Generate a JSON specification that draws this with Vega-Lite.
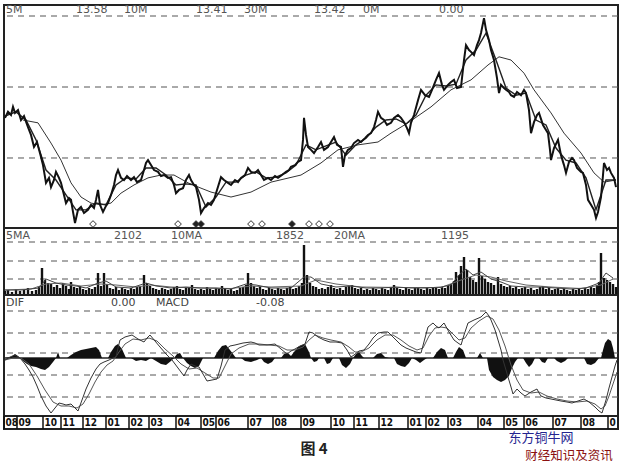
{
"$schema": "https://vega.github.io/schema/vega-lite/v6.json",
"padding": {"left": 0, "top": 2, "right": 0, "bottom": 38},
"background": "white",
"spacing": 0,
"bounds": "flush",
"config": {"view": {"stroke": "#222", "strokeWidth": 2}, "text": {"font": "DejaVu Sans"}},
"datasets": {
"price": [{"t":4,"p":13.13},{"t":7,"p":13.30},{"t":10,"p":13.21},{"t":12,"p":13.44},{"t":14,"p":13.27},{"t":17,"p":13.35},{"t":20,"p":13.07},{"t":23,"p":13.18},{"t":27,"p":12.87},{"t":30,"p":12.65},{"t":33,"p":12.31},{"t":36,"p":12.45},{"t":40,"p":12.03},{"t":42,"p":11.80},{"t":45,"p":11.30},{"t":48,"p":11.44},{"t":50,"p":11.18},{"t":53,"p":11.38},{"t":55,"p":11.61},{"t":58,"p":11.44},{"t":60,"p":11.30},{"t":63,"p":10.96},{"t":65,"p":10.73},{"t":68,"p":10.87},{"t":70,"p":10.82},{"t":72,"p":10.48},{"t":74,"p":10.17},{"t":77,"p":10.54},{"t":80,"p":10.62},{"t":83,"p":10.45},{"t":87,"p":10.54},{"t":90,"p":10.68},{"t":93,"p":10.59},{"t":95,"p":10.82},{"t":97,"p":11.10},{"t":99,"p":10.68},{"t":102,"p":10.48},{"t":105,"p":10.65},{"t":107,"p":10.73},{"t":110,"p":10.96},{"t":113,"p":11.24},{"t":115,"p":11.52},{"t":117,"p":11.66},{"t":120,"p":11.44},{"t":123,"p":11.38},{"t":126,"p":11.49},{"t":130,"p":11.38},{"t":133,"p":11.46},{"t":136,"p":11.32},{"t":140,"p":11.38},{"t":143,"p":11.66},{"t":145,"p":11.86},{"t":147,"p":11.94},{"t":150,"p":11.80},{"t":153,"p":11.66},{"t":157,"p":11.61},{"t":160,"p":11.49},{"t":163,"p":11.52},{"t":167,"p":11.44},{"t":170,"p":11.46},{"t":173,"p":11.24},{"t":175,"p":11.01},{"t":178,"p":11.10},{"t":182,"p":11.15},{"t":185,"p":11.38},{"t":188,"p":11.52},{"t":190,"p":11.38},{"t":193,"p":11.24},{"t":195,"p":11.18},{"t":198,"p":10.82},{"t":200,"p":10.45},{"t":203,"p":10.59},{"t":207,"p":10.73},{"t":210,"p":10.68},{"t":213,"p":10.82},{"t":216,"p":11.10},{"t":220,"p":11.46},{"t":223,"p":11.38},{"t":227,"p":11.30},{"t":230,"p":11.24},{"t":234,"p":11.38},{"t":237,"p":11.32},{"t":240,"p":11.44},{"t":244,"p":11.52},{"t":247,"p":11.72},{"t":250,"p":11.61},{"t":254,"p":11.58},{"t":257,"p":11.66},{"t":260,"p":11.52},{"t":263,"p":11.38},{"t":267,"p":11.44},{"t":270,"p":11.38},{"t":274,"p":11.49},{"t":277,"p":11.44},{"t":281,"p":11.52},{"t":285,"p":11.61},{"t":288,"p":11.66},{"t":290,"p":11.75},{"t":294,"p":11.80},{"t":297,"p":11.89},{"t":300,"p":11.94},{"t":302,"p":12.51},{"t":303,"p":13.13},{"t":305,"p":12.65},{"t":307,"p":12.31},{"t":310,"p":12.23},{"t":313,"p":12.14},{"t":317,"p":12.31},{"t":320,"p":12.45},{"t":323,"p":12.23},{"t":327,"p":12.31},{"t":330,"p":12.45},{"t":333,"p":12.59},{"t":336,"p":12.37},{"t":340,"p":12.31},{"t":342,"p":11.75},{"t":344,"p":12.08},{"t":347,"p":12.23},{"t":350,"p":12.28},{"t":353,"p":12.42},{"t":357,"p":12.51},{"t":360,"p":12.45},{"t":364,"p":12.56},{"t":367,"p":12.65},{"t":370,"p":12.70},{"t":373,"p":12.87},{"t":375,"p":13.07},{"t":377,"p":13.30},{"t":380,"p":13.13},{"t":383,"p":13.07},{"t":386,"p":12.93},{"t":390,"p":12.99},{"t":393,"p":13.13},{"t":397,"p":13.21},{"t":400,"p":13.13},{"t":403,"p":13.01},{"t":406,"p":12.84},{"t":408,"p":12.70},{"t":410,"p":12.99},{"t":413,"p":13.21},{"t":417,"p":13.63},{"t":420,"p":13.92},{"t":424,"p":13.77},{"t":428,"p":13.72},{"t":431,"p":13.92},{"t":435,"p":14.20},{"t":438,"p":14.39},{"t":441,"p":14.06},{"t":443,"p":13.92},{"t":447,"p":14.06},{"t":450,"p":14.14},{"t":453,"p":14.20},{"t":456,"p":13.97},{"t":460,"p":14.00},{"t":463,"p":14.76},{"t":465,"p":15.18},{"t":468,"p":15.04},{"t":470,"p":14.99},{"t":473,"p":14.90},{"t":476,"p":15.18},{"t":478,"p":15.32},{"t":480,"p":15.52},{"t":483,"p":15.94},{"t":485,"p":15.61},{"t":488,"p":15.32},{"t":490,"p":15.04},{"t":493,"p":14.76},{"t":496,"p":14.25},{"t":498,"p":13.83},{"t":500,"p":14.06},{"t":503,"p":13.97},{"t":505,"p":13.92},{"t":508,"p":13.86},{"t":510,"p":13.77},{"t":513,"p":13.72},{"t":516,"p":13.86},{"t":520,"p":13.77},{"t":523,"p":13.92},{"t":525,"p":13.83},{"t":528,"p":13.35},{"t":530,"p":12.70},{"t":533,"p":13.01},{"t":536,"p":13.21},{"t":538,"p":13.27},{"t":542,"p":12.93},{"t":545,"p":12.79},{"t":547,"p":12.70},{"t":549,"p":12.23},{"t":550,"p":11.94},{"t":553,"p":12.28},{"t":557,"p":12.51},{"t":560,"p":12.08},{"t":563,"p":11.80},{"t":565,"p":11.58},{"t":568,"p":11.89},{"t":571,"p":12.00},{"t":573,"p":11.94},{"t":576,"p":11.72},{"t":580,"p":11.61},{"t":582,"p":11.58},{"t":585,"p":11.24},{"t":587,"p":10.82},{"t":590,"p":10.68},{"t":593,"p":10.54},{"t":595,"p":10.31},{"t":597,"p":10.48},{"t":600,"p":10.90},{"t":602,"p":11.52},{"t":603,"p":11.86},{"t":606,"p":11.66},{"t":608,"p":11.72},{"t":610,"p":11.58},{"t":613,"p":11.44},{"t":615,"p":11.18}],
"ma5": [{"t":4,"p":13.18},{"t":15,"p":13.30},{"t":25,"p":13.07},{"t":35,"p":12.51},{"t":45,"p":11.66},{"t":55,"p":11.38},{"t":65,"p":10.96},{"t":75,"p":10.54},{"t":85,"p":10.54},{"t":95,"p":10.73},{"t":105,"p":10.68},{"t":115,"p":11.24},{"t":125,"p":11.44},{"t":135,"p":11.41},{"t":145,"p":11.72},{"t":155,"p":11.72},{"t":165,"p":11.52},{"t":175,"p":11.24},{"t":185,"p":11.27},{"t":195,"p":11.24},{"t":205,"p":10.62},{"t":215,"p":10.90},{"t":225,"p":11.32},{"t":235,"p":11.32},{"t":245,"p":11.52},{"t":255,"p":11.61},{"t":265,"p":11.44},{"t":275,"p":11.46},{"t":285,"p":11.58},{"t":295,"p":11.80},{"t":305,"p":12.37},{"t":315,"p":12.23},{"t":325,"p":12.34},{"t":335,"p":12.45},{"t":345,"p":12.08},{"t":355,"p":12.37},{"t":365,"p":12.56},{"t":375,"p":12.87},{"t":385,"p":13.07},{"t":395,"p":13.10},{"t":405,"p":12.96},{"t":415,"p":13.21},{"t":425,"p":13.77},{"t":435,"p":14.06},{"t":445,"p":14.03},{"t":455,"p":14.08},{"t":465,"p":14.76},{"t":475,"p":15.04},{"t":485,"p":15.52},{"t":495,"p":14.76},{"t":505,"p":13.97},{"t":515,"p":13.77},{"t":525,"p":13.83},{"t":535,"p":13.07},{"t":545,"p":12.93},{"t":555,"p":12.28},{"t":565,"p":11.94},{"t":575,"p":11.86},{"t":585,"p":11.44},{"t":595,"p":10.54},{"t":605,"p":11.38},{"t":615,"p":11.38}],
"ma30": [{"t":22,"p":13.07},{"t":37,"p":12.99},{"t":50,"p":12.42},{"t":60,"p":11.94},{"t":70,"p":11.30},{"t":80,"p":10.90},{"t":90,"p":10.73},{"t":100,"p":10.68},{"t":110,"p":10.73},{"t":120,"p":11.01},{"t":133,"p":11.24},{"t":147,"p":11.44},{"t":160,"p":11.52},{"t":173,"p":11.52},{"t":187,"p":11.30},{"t":200,"p":11.15},{"t":210,"p":11.04},{"t":230,"p":10.90},{"t":250,"p":11.04},{"t":270,"p":11.32},{"t":300,"p":11.52},{"t":320,"p":11.86},{"t":337,"p":12.23},{"t":357,"p":12.37},{"t":377,"p":12.45},{"t":390,"p":12.70},{"t":407,"p":12.99},{"t":430,"p":13.44},{"t":450,"p":13.92},{"t":470,"p":14.20},{"t":487,"p":14.62},{"t":498,"p":14.85},{"t":510,"p":14.76},{"t":523,"p":14.39},{"t":533,"p":13.92},{"t":550,"p":13.27},{"t":563,"p":12.70},{"t":580,"p":12.14},{"t":593,"p":11.58},{"t":603,"p":11.32},{"t":615,"p":11.38}],
"sig": [{"t":92,"k":"o"},{"t":177,"k":"o"},{"t":195,"k":"f"},{"t":200,"k":"f"},{"t":250,"k":"o"},{"t":261,"k":"o"},{"t":291,"k":"f"},{"t":308,"k":"o"},{"t":318,"k":"o"},{"t":329,"k":"o"}],
"vol": [{"t":4,"v":400},{"t":7,"v":500},{"t":11,"v":300},{"t":15,"v":600},{"t":19,"v":400},{"t":23,"v":500},{"t":27,"v":700},{"t":31,"v":400},{"t":35,"v":500},{"t":38,"v":900},{"t":41,"v":2700},{"t":44,"v":1500},{"t":47,"v":1200},{"t":50,"v":1100},{"t":53,"v":800},{"t":56,"v":1000},{"t":59,"v":700},{"t":62,"v":1200},{"t":65,"v":900},{"t":68,"v":600},{"t":70,"v":1300},{"t":73,"v":800},{"t":76,"v":700},{"t":79,"v":900},{"t":82,"v":600},{"t":85,"v":500},{"t":88,"v":700},{"t":91,"v":600},{"t":94,"v":800},{"t":97,"v":2200},{"t":100,"v":900},{"t":103,"v":2200},{"t":106,"v":1100},{"t":109,"v":700},{"t":112,"v":600},{"t":115,"v":800},{"t":118,"v":500},{"t":121,"v":700},{"t":124,"v":600},{"t":127,"v":500},{"t":130,"v":700},{"t":133,"v":600},{"t":136,"v":800},{"t":139,"v":900},{"t":143,"v":2000},{"t":146,"v":1200},{"t":149,"v":900},{"t":152,"v":700},{"t":155,"v":600},{"t":158,"v":500},{"t":161,"v":700},{"t":164,"v":600},{"t":167,"v":500},{"t":170,"v":600},{"t":173,"v":800},{"t":176,"v":900},{"t":179,"v":600},{"t":182,"v":500},{"t":185,"v":700},{"t":188,"v":800},{"t":191,"v":1000},{"t":194,"v":600},{"t":197,"v":500},{"t":200,"v":600},{"t":203,"v":500},{"t":206,"v":800},{"t":209,"v":600},{"t":212,"v":500},{"t":215,"v":700},{"t":218,"v":600},{"t":221,"v":900},{"t":224,"v":700},{"t":227,"v":500},{"t":230,"v":600},{"t":233,"v":400},{"t":236,"v":500},{"t":239,"v":700},{"t":242,"v":800},{"t":245,"v":1000},{"t":247,"v":2200},{"t":250,"v":1200},{"t":253,"v":900},{"t":256,"v":700},{"t":259,"v":900},{"t":262,"v":600},{"t":265,"v":500},{"t":268,"v":700},{"t":271,"v":600},{"t":274,"v":500},{"t":277,"v":700},{"t":280,"v":600},{"t":283,"v":500},{"t":286,"v":700},{"t":289,"v":800},{"t":292,"v":600},{"t":295,"v":700},{"t":298,"v":900},{"t":301,"v":1200},{"t":303,"v":5000},{"t":306,"v":2000},{"t":309,"v":1200},{"t":312,"v":900},{"t":315,"v":800},{"t":318,"v":600},{"t":321,"v":700},{"t":324,"v":600},{"t":327,"v":800},{"t":330,"v":1000},{"t":333,"v":700},{"t":336,"v":600},{"t":339,"v":700},{"t":342,"v":500},{"t":345,"v":800},{"t":348,"v":900},{"t":351,"v":1000},{"t":354,"v":700},{"t":357,"v":600},{"t":360,"v":700},{"t":363,"v":500},{"t":366,"v":600},{"t":369,"v":500},{"t":372,"v":700},{"t":375,"v":600},{"t":378,"v":500},{"t":381,"v":700},{"t":384,"v":600},{"t":387,"v":500},{"t":390,"v":800},{"t":393,"v":1000},{"t":396,"v":700},{"t":399,"v":600},{"t":402,"v":500},{"t":405,"v":700},{"t":408,"v":600},{"t":411,"v":500},{"t":414,"v":700},{"t":417,"v":800},{"t":420,"v":600},{"t":423,"v":500},{"t":426,"v":700},{"t":429,"v":600},{"t":432,"v":800},{"t":435,"v":700},{"t":438,"v":600},{"t":441,"v":800},{"t":444,"v":700},{"t":447,"v":900},{"t":450,"v":1100},{"t":453,"v":1400},{"t":455,"v":2300},{"t":458,"v":2000},{"t":460,"v":2900},{"t":463,"v":3800},{"t":466,"v":2500},{"t":469,"v":1800},{"t":472,"v":1500},{"t":475,"v":1300},{"t":478,"v":3700},{"t":481,"v":1900},{"t":484,"v":1600},{"t":487,"v":1300},{"t":490,"v":1200},{"t":493,"v":1000},{"t":497,"v":1800},{"t":500,"v":1100},{"t":503,"v":900},{"t":506,"v":800},{"t":509,"v":900},{"t":512,"v":700},{"t":515,"v":800},{"t":518,"v":600},{"t":521,"v":700},{"t":524,"v":800},{"t":527,"v":600},{"t":530,"v":700},{"t":533,"v":500},{"t":536,"v":600},{"t":539,"v":800},{"t":542,"v":900},{"t":545,"v":600},{"t":548,"v":700},{"t":551,"v":500},{"t":554,"v":600},{"t":557,"v":700},{"t":560,"v":500},{"t":563,"v":600},{"t":566,"v":500},{"t":569,"v":400},{"t":572,"v":600},{"t":575,"v":500},{"t":578,"v":600},{"t":581,"v":500},{"t":584,"v":700},{"t":587,"v":600},{"t":590,"v":800},{"t":593,"v":700},{"t":596,"v":1000},{"t":598,"v":1300},{"t":600,"v":4200},{"t":603,"v":1700},{"t":606,"v":1500},{"t":609,"v":1300},{"t":612,"v":1100},{"t":615,"v":800}],
"volma5": [{"t":4,"v":500},{"t":20,"v":500},{"t":38,"v":700},{"t":45,"v":1600},{"t":55,"v":1200},{"t":65,"v":1000},{"t":75,"v":900},{"t":85,"v":700},{"t":97,"v":1200},{"t":105,"v":1400},{"t":115,"v":800},{"t":130,"v":700},{"t":145,"v":1200},{"t":155,"v":900},{"t":170,"v":700},{"t":185,"v":800},{"t":200,"v":700},{"t":215,"v":700},{"t":230,"v":600},{"t":245,"v":1100},{"t":255,"v":1000},{"t":270,"v":700},{"t":290,"v":700},{"t":303,"v":1800},{"t":310,"v":1800},{"t":320,"v":1100},{"t":335,"v":800},{"t":350,"v":900},{"t":365,"v":700},{"t":380,"v":700},{"t":395,"v":800},{"t":410,"v":700},{"t":425,"v":700},{"t":440,"v":800},{"t":450,"v":1000},{"t":458,"v":2000},{"t":465,"v":2600},{"t":472,"v":2000},{"t":480,"v":2300},{"t":490,"v":1600},{"t":500,"v":1300},{"t":510,"v":900},{"t":525,"v":800},{"t":540,"v":800},{"t":555,"v":700},{"t":570,"v":600},{"t":585,"v":700},{"t":598,"v":1200},{"t":605,"v":2200},{"t":612,"v":1700}],
"volma10": [{"t":4,"v":500},{"t":30,"v":600},{"t":45,"v":1100},{"t":60,"v":1200},{"t":80,"v":900},{"t":100,"v":1100},{"t":115,"v":1000},{"t":135,"v":800},{"t":150,"v":1000},{"t":170,"v":800},{"t":200,"v":700},{"t":230,"v":650},{"t":250,"v":900},{"t":270,"v":800},{"t":300,"v":900},{"t":315,"v":1500},{"t":335,"v":1100},{"t":360,"v":800},{"t":400,"v":750},{"t":440,"v":750},{"t":460,"v":1500},{"t":475,"v":2000},{"t":490,"v":1800},{"t":505,"v":1400},{"t":525,"v":1000},{"t":550,"v":800},{"t":580,"v":650},{"t":600,"v":1000},{"t":612,"v":1600}],
"dif": [{"t":4,"m":-0.02},{"t":9,"m":0.01},{"t":14,"m":0.03},{"t":19,"m":0},{"t":24,"m":-0.06},{"t":28,"m":-0.12},{"t":32,"m":-0.19},{"t":36,"m":-0.28},{"t":40,"m":-0.38},{"t":45,"m":-0.48},{"t":50,"m":-0.55},{"t":54,"m":-0.50},{"t":58,"m":-0.45},{"t":62,"m":-0.46},{"t":65,"m":-0.47},{"t":70,"m":-0.46},{"t":74,"m":-0.50},{"t":77,"m":-0.53},{"t":81,"m":-0.42},{"t":85,"m":-0.31},{"t":90,"m":-0.20},{"t":95,"m":-0.11},{"t":99,"m":-0.06},{"t":103,"m":-0.04},{"t":108,"m":-0.02},{"t":112,"m":0},{"t":115,"m":0.01},{"t":117,"m":0.10},{"t":119,"m":0.18},{"t":124,"m":0.21},{"t":131,"m":0.23},{"t":137,"m":0.19},{"t":143,"m":0.16},{"t":146,"m":0.20},{"t":149,"m":0.23},{"t":154,"m":0.17},{"t":159,"m":0.11},{"t":165,"m":0.04},{"t":171,"m":-0.02},{"t":177,"m":-0.10},{"t":183,"m":-0.18},{"t":186,"m":-0.12},{"t":190,"m":-0.06},{"t":194,"m":-0.08},{"t":198,"m":-0.09},{"t":202,"m":-0.16},{"t":206,"m":-0.23},{"t":211,"m":-0.22},{"t":216,"m":-0.21},{"t":220,"m":-0.08},{"t":224,"m":0.08},{"t":229,"m":0.12},{"t":234,"m":0.13},{"t":242,"m":0.15},{"t":250,"m":0.16},{"t":254,"m":0.15},{"t":258,"m":0.13},{"t":266,"m":0.13},{"t":274,"m":0.14},{"t":280,"m":0.09},{"t":286,"m":0.04},{"t":290,"m":0.07},{"t":294,"m":0.09},{"t":299,"m":0.12},{"t":304,"m":0.14},{"t":306,"m":0.20},{"t":308,"m":0.26},{"t":312,"m":0.25},{"t":317,"m":0.21},{"t":323,"m":0.18},{"t":329,"m":0.16},{"t":335,"m":0.16},{"t":341,"m":0.15},{"t":346,"m":0.08},{"t":350,"m":0.01},{"t":353,"m":0.03},{"t":358,"m":0.07},{"t":363,"m":0.08},{"t":368,"m":0.14},{"t":372,"m":0.20},{"t":377,"m":0.25},{"t":383,"m":0.26},{"t":387,"m":0.26},{"t":393,"m":0.20},{"t":400,"m":0.13},{"t":405,"m":0.10},{"t":410,"m":0.08},{"t":415,"m":0.06},{"t":420,"m":0.05},{"t":424,"m":0.20},{"t":427,"m":0.31},{"t":432,"m":0.35},{"t":435,"m":0.32},{"t":438,"m":0.30},{"t":443,"m":0.35},{"t":448,"m":0.26},{"t":453,"m":0.18},{"t":457,"m":0.15},{"t":460,"m":0.13},{"t":463,"m":0.23},{"t":467,"m":0.35},{"t":473,"m":0.38},{"t":480,"m":0.41},{"t":485,"m":0.46},{"t":488,"m":0.42},{"t":490,"m":0.38},{"t":494,"m":0.28},{"t":497,"m":0.18},{"t":500,"m":0.08},{"t":502,"m":-0.02},{"t":505,"m":-0.12},{"t":507,"m":-0.19},{"t":510,"m":-0.29},{"t":512,"m":-0.36},{"t":516,"m":-0.31},{"t":520,"m":-0.35},{"t":524,"m":-0.38},{"t":530,"m":-0.34},{"t":536,"m":-0.31},{"t":538,"m":-0.35},{"t":540,"m":-0.38},{"t":545,"m":-0.40},{"t":550,"m":-0.41},{"t":555,"m":-0.42},{"t":560,"m":-0.43},{"t":566,"m":-0.44},{"t":571,"m":-0.45},{"t":577,"m":-0.43},{"t":583,"m":-0.41},{"t":588,"m":-0.44},{"t":594,"m":-0.49},{"t":598,"m":-0.53},{"t":601,"m":-0.55},{"t":605,"m":-0.42},{"t":608,"m":-0.30},{"t":611,"m":-0.19},{"t":614,"m":-0.08},{"t":616,"m":-0.02}],
"dea": [{"t":4,"m":-0.02},{"t":12,"m":0},{"t":20,"m":0},{"t":28,"m":-0.06},{"t":36,"m":-0.18},{"t":44,"m":-0.32},{"t":52,"m":-0.44},{"t":60,"m":-0.48},{"t":68,"m":-0.48},{"t":76,"m":-0.50},{"t":82,"m":-0.46},{"t":88,"m":-0.36},{"t":94,"m":-0.24},{"t":100,"m":-0.14},{"t":106,"m":-0.07},{"t":112,"m":-0.03},{"t":118,"m":0.06},{"t":124,"m":0.14},{"t":132,"m":0.19},{"t":140,"m":0.18},{"t":148,"m":0.20},{"t":156,"m":0.17},{"t":164,"m":0.09},{"t":172,"m":0.02},{"t":180,"m":-0.06},{"t":188,"m":-0.11},{"t":196,"m":-0.10},{"t":204,"m":-0.15},{"t":212,"m":-0.20},{"t":218,"m":-0.20},{"t":224,"m":-0.08},{"t":230,"m":0.04},{"t":238,"m":0.10},{"t":248,"m":0.14},{"t":258,"m":0.14},{"t":268,"m":0.13},{"t":278,"m":0.12},{"t":286,"m":0.08},{"t":294,"m":0.08},{"t":302,"m":0.11},{"t":308,"m":0.18},{"t":314,"m":0.23},{"t":322,"m":0.20},{"t":330,"m":0.18},{"t":340,"m":0.16},{"t":348,"m":0.11},{"t":354,"m":0.06},{"t":360,"m":0.06},{"t":368,"m":0.10},{"t":376,"m":0.18},{"t":384,"m":0.23},{"t":392,"m":0.23},{"t":400,"m":0.18},{"t":408,"m":0.12},{"t":416,"m":0.08},{"t":422,"m":0.10},{"t":428,"m":0.22},{"t":434,"m":0.30},{"t":440,"m":0.31},{"t":446,"m":0.30},{"t":452,"m":0.24},{"t":458,"m":0.18},{"t":464,"m":0.20},{"t":470,"m":0.30},{"t":478,"m":0.37},{"t":486,"m":0.42},{"t":492,"m":0.39},{"t":498,"m":0.28},{"t":504,"m":0.12},{"t":510,"m":-0.07},{"t":516,"m":-0.22},{"t":522,"m":-0.32},{"t":530,"m":-0.35},{"t":538,"m":-0.34},{"t":546,"m":-0.38},{"t":556,"m":-0.41},{"t":566,"m":-0.43},{"t":576,"m":-0.44},{"t":586,"m":-0.43},{"t":594,"m":-0.46},{"t":600,"m":-0.51},{"t":604,"m":-0.48},{"t":608,"m":-0.38},{"t":612,"m":-0.26},{"t":616,"m":-0.14}],
"hist": [{"t":4,"h":0},{"t":10,"h":0.01},{"t":14,"h":0.04},{"t":17,"h":0.02},{"t":19,"h":0},{"t":22,"h":-0.03},{"t":26,"h":-0.06},{"t":30,"h":-0.08},{"t":35,"h":-0.09},{"t":40,"h":-0.11},{"t":44,"h":-0.12},{"t":48,"h":-0.09},{"t":52,"h":-0.04},{"t":55,"h":0},{"t":57,"h":0.06},{"t":59,"h":0},{"t":66,"h":0},{"t":70,"h":0.03},{"t":75,"h":0.06},{"t":80,"h":0.08},{"t":85,"h":0.09},{"t":90,"h":0.10},{"t":95,"h":0.11},{"t":98,"h":0.08},{"t":101,"h":0},{"t":107,"h":0},{"t":110,"h":0.06},{"t":114,"h":0.12},{"t":117,"h":0.14},{"t":121,"h":0.09},{"t":125,"h":0},{"t":130,"h":0},{"t":135,"h":-0.03},{"t":140,"h":-0.02},{"t":145,"h":-0.03},{"t":150,"h":0},{"t":155,"h":-0.03},{"t":160,"h":-0.06},{"t":165,"h":-0.07},{"t":170,"h":-0.03},{"t":173,"h":0},{"t":176,"h":0.04},{"t":179,"h":0.05},{"t":182,"h":0},{"t":186,"h":-0.05},{"t":190,"h":-0.08},{"t":194,"h":-0.10},{"t":198,"h":-0.08},{"t":202,"h":0},{"t":213,"h":0},{"t":217,"h":0.07},{"t":221,"h":0.12},{"t":225,"h":0.13},{"t":229,"h":0.08},{"t":235,"h":0},{"t":240,"h":0},{"t":244,"h":-0.03},{"t":250,"h":-0.04},{"t":256,"h":-0.02},{"t":260,"h":0},{"t":263,"h":-0.04},{"t":267,"h":-0.06},{"t":271,"h":-0.04},{"t":274,"h":0},{"t":280,"h":0},{"t":283,"h":0.04},{"t":287,"h":0.05},{"t":290,"h":0.02},{"t":293,"h":0.06},{"t":297,"h":0.11},{"t":301,"h":0.13},{"t":304,"h":0.14},{"t":308,"h":0.06},{"t":310,"h":0},{"t":313,"h":-0.04},{"t":316,"h":-0.03},{"t":318,"h":0},{"t":323,"h":0},{"t":326,"h":-0.06},{"t":329,"h":-0.05},{"t":332,"h":0},{"t":338,"h":0},{"t":341,"h":-0.07},{"t":345,"h":-0.10},{"t":349,"h":-0.06},{"t":352,"h":0},{"t":355,"h":0.04},{"t":358,"h":0.06},{"t":361,"h":0.02},{"t":363,"h":0},{"t":372,"h":0},{"t":376,"h":0.04},{"t":380,"h":0.05},{"t":384,"h":0.01},{"t":388,"h":0},{"t":393,"h":0},{"t":396,"h":-0.06},{"t":400,"h":-0.08},{"t":404,"h":-0.09},{"t":408,"h":-0.05},{"t":411,"h":0},{"t":415,"h":-0.02},{"t":419,"h":-0.05},{"t":423,"h":-0.02},{"t":426,"h":0},{"t":432,"h":0},{"t":436,"h":0.06},{"t":440,"h":0.10},{"t":444,"h":0.08},{"t":447,"h":0},{"t":452,"h":0},{"t":455,"h":0.06},{"t":458,"h":0.11},{"t":462,"h":0.08},{"t":465,"h":0},{"t":476,"h":0},{"t":479,"h":0.05},{"t":482,"h":0},{"t":486,"h":0},{"t":488,"h":-0.12},{"t":492,"h":-0.19},{"t":496,"h":-0.22},{"t":500,"h":-0.24},{"t":504,"h":-0.22},{"t":508,"h":-0.18},{"t":511,"h":-0.10},{"t":514,"h":-0.04},{"t":517,"h":0},{"t":522,"h":0},{"t":525,"h":-0.05},{"t":528,"h":-0.09},{"t":531,"h":-0.06},{"t":534,"h":0},{"t":538,"h":0},{"t":541,"h":-0.04},{"t":544,"h":-0.05},{"t":547,"h":0},{"t":553,"h":0},{"t":556,"h":-0.03},{"t":560,"h":-0.05},{"t":564,"h":-0.03},{"t":567,"h":0},{"t":583,"h":0},{"t":586,"h":-0.06},{"t":590,"h":-0.07},{"t":594,"h":-0.05},{"t":598,"h":0},{"t":600,"h":0},{"t":602,"h":0.08},{"t":604,"h":0.15},{"t":607,"h":0.19},{"t":610,"h":0.17},{"t":612,"h":0.10},{"t":614,"h":0},{"t":616,"h":0}],
"months": [{"t":3,"m":"08"},{"t":16,"m":"09"},{"t":42,"m":"10"},{"t":60,"m":"11"},{"t":82,"m":"12"},{"t":105,"m":"01"},{"t":128,"m":"02"},{"t":148,"m":"03"},{"t":175,"m":"04"},{"t":200,"m":"05"},{"t":215,"m":"06"},{"t":247,"m":"07"},{"t":272,"m":"08"},{"t":300,"m":"09"},{"t":330,"m":"10"},{"t":353,"m":"11"},{"t":378,"m":"12"},{"t":407,"m":"01"},{"t":425,"m":"02"},{"t":447,"m":"03"},{"t":477,"m":"04"},{"t":503,"m":"05"},{"t":523,"m":"06"},{"t":552,"m":"07"},{"t":580,"m":"08"},{"t":607,"m":"0"}]
},
"vconcat": [
{"width": 614, "height": 223,
 "layer": [
  {"data": {"values": [{"g": 12}, {"g": 14}, {"g": 16}]}, "mark": {"type": "rule", "strokeDash": [6, 5], "color": "#555", "strokeWidth": 1},
   "encoding": {"y": {"field": "g", "type": "quantitative", "scale": {"domain": [10.028, 16.31], "nice": false, "zero": false}, "axis": null}}},
  {"data": {"name": "ma30"}, "mark": {"type": "line", "color": "#333", "strokeWidth": 1},
   "encoding": {"x": {"field": "t", "type": "quantitative", "scale": {"domain": [3, 617], "nice": false, "zero": false}, "axis": null}, "y": {"field": "p", "type": "quantitative", "axis": null}}},
  {"data": {"name": "ma5"}, "mark": {"type": "line", "color": "#222", "strokeWidth": 1.4},
   "encoding": {"x": {"field": "t", "type": "quantitative", "axis": null}, "y": {"field": "p", "type": "quantitative", "axis": null}}},
  {"data": {"name": "price"}, "mark": {"type": "line", "color": "#111", "strokeWidth": 2},
   "encoding": {"x": {"field": "t", "type": "quantitative", "axis": null}, "y": {"field": "p", "type": "quantitative", "axis": null}}},
  {"data": {"name": "sig"}, "mark": {"type": "point", "shape": "diamond", "size": 45, "filled": true, "stroke": "#333", "strokeWidth": 1, "opacity": 1},
   "encoding": {"x": {"field": "t", "type": "quantitative", "axis": null}, "y": {"datum": 10.14}, "fill": {"field": "k", "type": "nominal", "scale": {"domain": ["o", "f"], "range": ["#ffffff", "#222222"]}, "legend": null}}},
  {"data": {"values": [{}]}, "mark": {"type": "text", "align": "left", "baseline": "middle", "fontSize": 11, "color": "#555"}, "encoding": {"x": {"datum": 5}, "y": {"datum": 16.17}, "text": {"value": "5M"}}},
  {"data": {"values": [{}]}, "mark": {"type": "text", "align": "left", "baseline": "middle", "fontSize": 11, "color": "#555"}, "encoding": {"x": {"datum": 75}, "y": {"datum": 16.17}, "text": {"value": "13.58"}}},
  {"data": {"values": [{}]}, "mark": {"type": "text", "align": "left", "baseline": "middle", "fontSize": 11, "color": "#555"}, "encoding": {"x": {"datum": 123}, "y": {"datum": 16.17}, "text": {"value": "10M"}}},
  {"data": {"values": [{}]}, "mark": {"type": "text", "align": "left", "baseline": "middle", "fontSize": 11, "color": "#555"}, "encoding": {"x": {"datum": 195}, "y": {"datum": 16.17}, "text": {"value": "13.41"}}},
  {"data": {"values": [{}]}, "mark": {"type": "text", "align": "left", "baseline": "middle", "fontSize": 11, "color": "#555"}, "encoding": {"x": {"datum": 243}, "y": {"datum": 16.17}, "text": {"value": "30M"}}},
  {"data": {"values": [{}]}, "mark": {"type": "text", "align": "left", "baseline": "middle", "fontSize": 11, "color": "#555"}, "encoding": {"x": {"datum": 313}, "y": {"datum": 16.17}, "text": {"value": "13.42"}}},
  {"data": {"values": [{}]}, "mark": {"type": "text", "align": "left", "baseline": "middle", "fontSize": 11, "color": "#555"}, "encoding": {"x": {"datum": 362}, "y": {"datum": 16.17}, "text": {"value": "0M"}}},
  {"data": {"values": [{}]}, "mark": {"type": "text", "align": "left", "baseline": "middle", "fontSize": 11, "color": "#555"}, "encoding": {"x": {"datum": 438}, "y": {"datum": 16.17}, "text": {"value": "0.00"}}}
 ]},
{"width": 614, "height": 67,
 "layer": [
  {"data": {"values": [{"g": 1600}, {"g": 3400}, {"g": 5300}]}, "mark": {"type": "rule", "strokeDash": [6, 5], "color": "#555", "strokeWidth": 1},
   "encoding": {"y": {"field": "g", "type": "quantitative", "scale": {"domain": [0, 6700], "nice": false, "zero": false}, "axis": null}}},
  {"data": {"name": "vol"}, "mark": {"type": "rule", "color": "#111", "strokeWidth": 2.4},
   "encoding": {"x": {"field": "t", "type": "quantitative", "scale": {"domain": [3, 617], "nice": false, "zero": false}, "axis": null}, "y": {"field": "v", "type": "quantitative", "axis": null}, "y2": {"datum": 0}}},
  {"data": {"name": "volma10"}, "mark": {"type": "line", "color": "#666", "strokeWidth": 1},
   "encoding": {"x": {"field": "t", "type": "quantitative", "axis": null}, "y": {"field": "v", "type": "quantitative", "axis": null}}},
  {"data": {"name": "volma5"}, "mark": {"type": "line", "color": "#444", "strokeWidth": 1},
   "encoding": {"x": {"field": "t", "type": "quantitative", "axis": null}, "y": {"field": "v", "type": "quantitative", "axis": null}}},
  {"data": {"values": [{}]}, "mark": {"type": "text", "align": "left", "baseline": "middle", "fontSize": 11, "color": "#555"}, "encoding": {"x": {"datum": 5}, "y": {"datum": 5900}, "text": {"value": "5MA"}}},
  {"data": {"values": [{}]}, "mark": {"type": "text", "align": "left", "baseline": "middle", "fontSize": 11, "color": "#555"}, "encoding": {"x": {"datum": 113}, "y": {"datum": 5900}, "text": {"value": "2102"}}},
  {"data": {"values": [{}]}, "mark": {"type": "text", "align": "left", "baseline": "middle", "fontSize": 11, "color": "#555"}, "encoding": {"x": {"datum": 170}, "y": {"datum": 5900}, "text": {"value": "10MA"}}},
  {"data": {"values": [{}]}, "mark": {"type": "text", "align": "left", "baseline": "middle", "fontSize": 11, "color": "#555"}, "encoding": {"x": {"datum": 275}, "y": {"datum": 5900}, "text": {"value": "1852"}}},
  {"data": {"values": [{}]}, "mark": {"type": "text", "align": "left", "baseline": "middle", "fontSize": 11, "color": "#555"}, "encoding": {"x": {"datum": 333}, "y": {"datum": 5900}, "text": {"value": "20MA"}}},
  {"data": {"values": [{}]}, "mark": {"type": "text", "align": "left", "baseline": "middle", "fontSize": 11, "color": "#555"}, "encoding": {"x": {"datum": 440}, "y": {"datum": 5900}, "text": {"value": "1195"}}}
 ]},
{"width": 614, "height": 121,
 "layer": [
  {"data": {"values": [{"g": 0.47}, {"g": 0.25}, {"g": 0.05}, {"g": -0.17}, {"g": -0.39}]}, "mark": {"type": "rule", "strokeDash": [6, 5], "color": "#555", "strokeWidth": 1},
   "encoding": {"y": {"field": "g", "type": "quantitative", "scale": {"domain": [-0.58, 0.63], "nice": false, "zero": false}, "axis": null}}},
  {"data": {"values": [{"z": 0}]}, "mark": {"type": "rule", "color": "#222", "strokeWidth": 1.5}, "encoding": {"y": {"field": "z", "type": "quantitative", "axis": null}}},
  {"data": {"name": "hist"}, "mark": {"type": "area", "color": "#111", "opacity": 1},
   "encoding": {"x": {"field": "t", "type": "quantitative", "scale": {"domain": [3, 617], "nice": false, "zero": false}, "axis": null}, "y": {"field": "h", "type": "quantitative", "axis": null}, "y2": {"datum": 0}}},
  {"data": {"name": "dea"}, "mark": {"type": "line", "color": "#555", "strokeWidth": 1},
   "encoding": {"x": {"field": "t", "type": "quantitative", "axis": null}, "y": {"field": "m", "type": "quantitative", "axis": null}}},
  {"data": {"name": "dif"}, "mark": {"type": "line", "color": "#333", "strokeWidth": 1},
   "encoding": {"x": {"field": "t", "type": "quantitative", "axis": null}, "y": {"field": "m", "type": "quantitative", "axis": null}}},
  {"data": {"values": [{}]}, "mark": {"type": "text", "align": "left", "baseline": "middle", "fontSize": 11, "color": "#444"}, "encoding": {"x": {"datum": 5}, "y": {"datum": 0.55}, "text": {"value": "DIF"}}},
  {"data": {"values": [{}]}, "mark": {"type": "text", "align": "left", "baseline": "middle", "fontSize": 11, "color": "#444"}, "encoding": {"x": {"datum": 110}, "y": {"datum": 0.55}, "text": {"value": "0.00"}}},
  {"data": {"values": [{}]}, "mark": {"type": "text", "align": "left", "baseline": "middle", "fontSize": 11, "color": "#444"}, "encoding": {"x": {"datum": 155}, "y": {"datum": 0.55}, "text": {"value": "MACD"}}},
  {"data": {"values": [{}]}, "mark": {"type": "text", "align": "left", "baseline": "middle", "fontSize": 11, "color": "#444"}, "encoding": {"x": {"datum": 255}, "y": {"datum": 0.55}, "text": {"value": "-0.08"}}}
 ]},
{"width": 614, "height": 13,
 "layer": [
  {"data": {"name": "months"}, "mark": {"type": "rule", "color": "#111", "strokeWidth": 1.5},
   "encoding": {"x": {"field": "t", "type": "quantitative", "scale": {"domain": [3, 617], "nice": false, "zero": false}, "axis": null}, "y": {"datum": 0, "scale": {"domain": [0, 1], "nice": false, "zero": false}, "axis": null}, "y2": {"datum": 1}}},
  {"data": {"name": "months"}, "mark": {"type": "text", "align": "left", "baseline": "middle", "dx": 1.5, "fontSize": 10, "fontWeight": "bold", "font": "DejaVu Sans Condensed", "color": "#111"},
   "encoding": {"x": {"field": "t", "type": "quantitative", "axis": null}, "y": {"datum": 0.45}, "text": {"field": "m"}}},
  {"data": {"values": [{}]}, "mark": {"type": "text", "align": "center", "baseline": "middle", "fontSize": 15, "fontWeight": "bold", "font": "Noto Sans CJK SC", "color": "#222"},
   "encoding": {"x": {"datum": 313}, "y": {"datum": -1.54}, "text": {"value": "图 4"}}},
  {"data": {"values": [{}]}, "mark": {"type": "text", "align": "center", "baseline": "middle", "fontSize": 13, "font": "Noto Sans CJK SC", "color": "#24248f"},
   "encoding": {"x": {"datum": 540}, "y": {"datum": -0.72}, "text": {"value": "东方铜牛网"}}},
  {"data": {"values": [{}]}, "mark": {"type": "text", "align": "center", "baseline": "middle", "fontSize": 12.5, "font": "Noto Sans CJK SC", "color": "#8b1010"},
   "encoding": {"x": {"datum": 568}, "y": {"datum": -2.08}, "text": {"value": "财经知识及资讯"}}}
 ]}
]
}
